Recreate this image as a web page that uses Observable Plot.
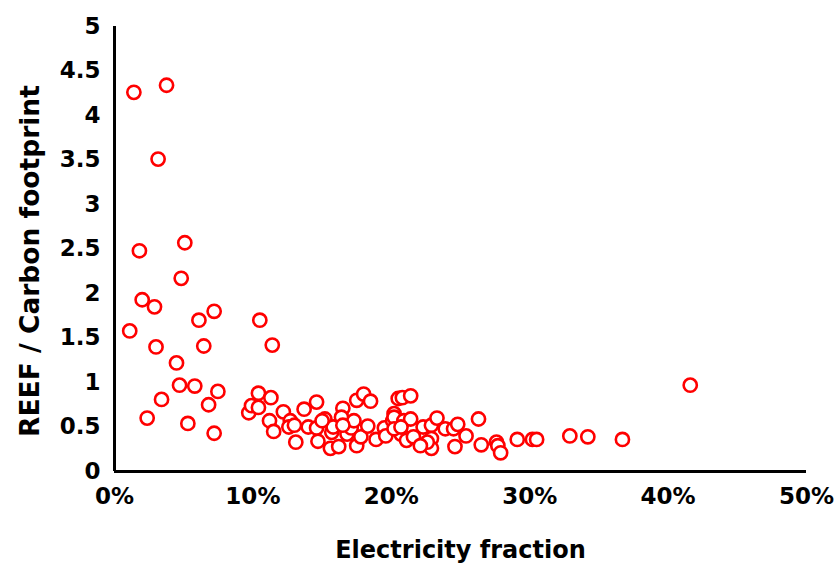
<!DOCTYPE html>
<html><head><meta charset="utf-8">
<script src="https://cdn.jsdelivr.net/npm/d3@7"></script>
<script src="https://cdn.jsdelivr.net/npm/@observablehq/plot@0.6"></script>
<style>body{margin:0;background:#fff;}</style>
</head><body><div id="chart"></div>
<script>
const electricityPct = [1.4,3.76,3.15,1.8,5.08,4.82,2.0,2.89,1.1,6.1,7.2,10.5,11.4,3.0,6.45,4.48,4.7,5.8,7.47,3.4,6.8,2.36,5.3,7.2,
10.4,11.3,9.7,9.9,10.4,11.2,11.5,12.2,12.7,12.6,13.0,13.1,13.7,14.6,14.0,14.7,14.6,15.2,15.7,15.8,15.6,16.2,16.5,16.4,16.8,17.1,17.3,17.5,18.0,18.5,17.5,17.8,18.3,18.9,19.5,19.6,20.1,20.2,20.5,20.8,21.4,20.2,20.9,21.4,20.7,20.2,21.1,21.6,22.3,22.9,23.3,22.9,22.9,22.6,23.9,24.5,24.8,25.4,24.6,26.3,26.5,27.6,27.7,27.9,29.1,30.2,30.5,32.9,34.2,36.7,41.6,
15.0,16.5,22.1,20.7];
const reefRatio = [4.26,4.34,3.51,2.48,2.57,2.17,1.93,1.85,1.58,1.70,1.80,1.70,1.42,1.40,1.41,1.22,0.97,0.96,0.90,0.81,0.75,0.60,0.54,0.43,
0.88,0.83,0.66,0.74,0.72,0.57,0.45,0.67,0.57,0.50,0.52,0.33,0.70,0.78,0.50,0.34,0.49,0.59,0.44,0.50,0.26,0.28,0.71,0.61,0.42,0.49,0.57,0.80,0.87,0.79,0.29,0.39,0.51,0.36,0.49,0.40,0.57,0.65,0.82,0.83,0.85,0.61,0.57,0.59,0.42,0.48,0.35,0.39,0.50,0.52,0.60,0.37,0.26,0.33,0.48,0.48,0.53,0.40,0.28,0.59,0.30,0.33,0.29,0.21,0.36,0.36,0.36,0.40,0.39,0.36,0.97,
0.57,0.52,0.29,0.50];
const xTicks = [0, 0.1, 0.2, 0.3, 0.4, 0.5];
const yTicks = [0, 0.5, 1, 1.5, 2, 2.5, 3, 3.5, 4, 4.5, 5];
const xTitle = "Electricity fraction";
const yTitle = "REEF / Carbon footprint";

const data = electricityPct.map((x, i) => ({x: x / 100, y: reefRatio[i]}));

const chart = Plot.plot({
  width: 838, height: 565,
  marginLeft: 114, marginRight: 32, marginTop: 26, marginBottom: 94,
  style: {fontFamily: "'DejaVu Sans', sans-serif", fontWeight: "bold", fontSize: "24px", color: "#000", background: "#fff", overflow: "visible"},
  x: {domain: [0, 0.5]},
  y: {domain: [0, 5]},
  marks: [
    Plot.axisX({ticks: xTicks, tickFormat: d3.format(".0%"), tickSize: 0, tickPadding: 16, fontSize: 23, fontWeight: "bold",
      label: null}),
    Plot.axisY({ticks: yTicks, tickFormat: d => String(d), tickSize: 0, tickPadding: 14, fontSize: 23, fontWeight: "bold",
      label: null}),
    Plot.text([xTitle], {frameAnchor: "bottom", dy: 86, text: d => d, fontSize: 24, fontWeight: "bold", fill: "#000"}),
    Plot.text([yTitle], {frameAnchor: "left", textAnchor: "middle", dx: -84, dy: 12, rotate: -90, text: d => d, fontSize: 26.5, fontWeight: "bold", fill: "#000"}),
    Plot.ruleX([0], {stroke: "#000", strokeWidth: 3}),
    Plot.ruleY([0], {stroke: "#000", strokeWidth: 3}),
    Plot.dot(data, {x: "x", y: "y", r: 6.6, stroke: "#ff0000", fill: "white", strokeWidth: 2.6})
  ]
});
document.getElementById("chart").appendChild(chart);
</script>
</body></html>
